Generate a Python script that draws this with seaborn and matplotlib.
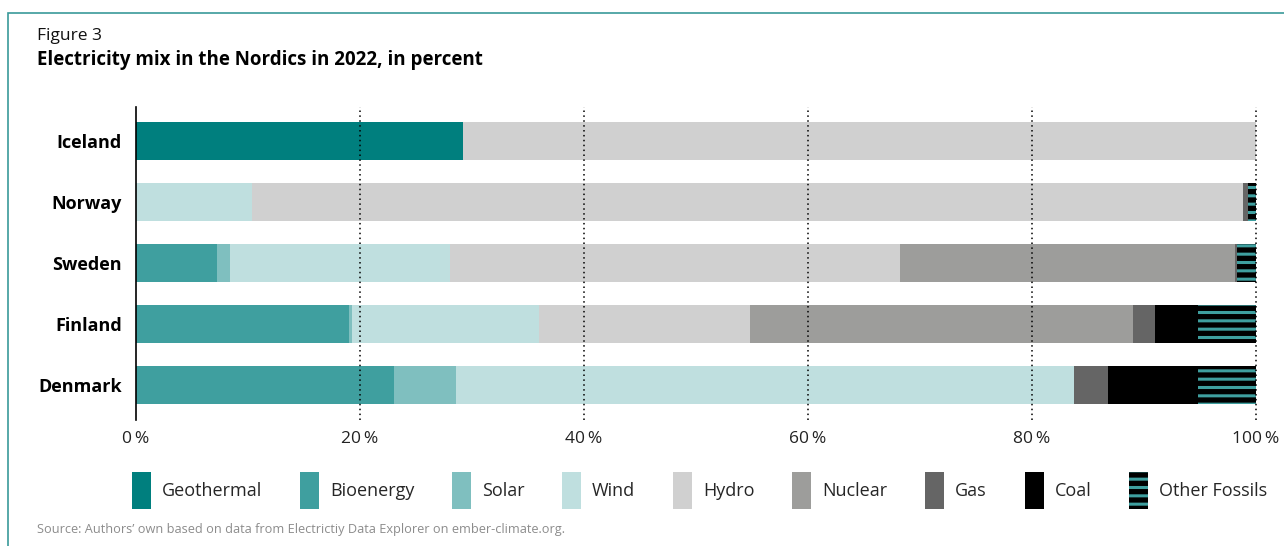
import pandas as pd
import seaborn as sns
import matplotlib.pyplot as plt
from matplotlib.patches import Patch, Rectangle

# Data (percent of electricity generation, 2022)
countries = ["Iceland", "Norway", "Sweden", "Finland", "Denmark"]
sources = ["Geothermal", "Bioenergy", "Solar", "Wind", "Hydro",
           "Nuclear", "Gas", "Coal", "Other Fossils"]
geothermal = [29.2, 0, 0, 0, 0]
bioenergy = [0, 0, 7.2, 19.0, 23.0]
solar = [0, 0, 1.2, 0.3, 5.6]
wind = [0, 10.4, 19.6, 16.7, 55.15]
hydro = [70.8, 88.4, 40.2, 18.8, 0]
nuclear = [0, 0, 29.9, 34.2, 0]
gas = [0, 0.45, 0.2, 2.0, 3.05]
coal = [0, 0, 0, 3.8, 8.0]
other_fossils = [0, 0.75, 1.7, 5.2, 5.2]
x_ticks = [0, 20, 40, 60, 80, 100]

colors = {
    "Geothermal": "#007f7e",
    "Bioenergy": "#3f9f9f",
    "Solar": "#7fbfbf",
    "Wind": "#bfdfdf",
    "Hydro": "#d0d0d0",
    "Nuclear": "#9d9d9b",
    "Gas": "#656565",
    "Coal": "#000000",
    "Other Fossils": "#000000",
}
stripe = "#3f9f9f"
teal_border = "#3a9a9a"

df = pd.DataFrame({
    "country": countries,
    "Geothermal": geothermal, "Bioenergy": bioenergy, "Solar": solar,
    "Wind": wind, "Hydro": hydro, "Nuclear": nuclear, "Gas": gas,
    "Coal": coal, "Other Fossils": other_fossils,
})
cum = df[sources].cumsum(axis=1)

sns.set_theme(style="white")
plt.rcParams["font.family"] = ["Open Sans", "DejaVu Sans"]
plt.rcParams["hatch.linewidth"] = 2.2
plt.rcParams["hatch.color"] = stripe

fig = plt.figure(figsize=(12.84, 5.46), dpi=100)
ax = fig.add_axes([136 / 1284, 1 - 420 / 546, 1120 / 1284, 313 / 546])

# stacked bars: draw cumulative totals from the last source backwards
for src in reversed(sources):
    n_before = len(ax.patches)
    sns.barplot(x=cum[src], y=df["country"], orient="h", color=colors[src],
                saturation=1, width=0.62, linewidth=0, ax=ax,
                hatch="--" if src == "Other Fossils" else None)
    if src == "Other Fossils":
        for p in ax.patches[n_before:]:
            p.set_edgecolor(stripe)
            p.set_linewidth(0)

ax.set_xlim(0, 100)
ax.set_ylim(4.57, -0.56)
ax.set_xticks(x_ticks)
ax.set_xticklabels([f"{t}\u2009%" for t in x_ticks], fontsize=12.5, color="#222222")
ax.tick_params(axis="x", length=0, pad=8)
ax.tick_params(axis="y", length=0, pad=10)
for lbl in ax.get_yticklabels():
    lbl.set_fontweight("bold")
    lbl.set_fontsize(13)
    lbl.set_color("black")
ax.set_xlabel("")
ax.set_ylabel("")
for t in x_ticks[1:]:
    ax.axvline(t, color="black", linestyle=(0, (1, 2.2)), linewidth=1.1, zorder=5, clip_on=False)
for side in ["top", "right", "bottom"]:
    ax.spines[side].set_visible(False)
ax.spines["left"].set_color("black")
ax.spines["left"].set_linewidth(1.2)

# legend
handles = []
for src in sources:
    if src == "Other Fossils":
        handles.append(Patch(facecolor="black", edgecolor=stripe, hatch="--", linewidth=0, label=src))
    else:
        handles.append(Patch(facecolor=colors[src], linewidth=0, label=src))
fig.legend(handles=handles, loc="upper left", bbox_to_anchor=(132 / 1284, 1 - 472 / 546),
           ncol=9, frameon=False, fontsize=13, handlelength=1.05, handleheight=2.8,
           handletextpad=0.6, columnspacing=2.1, borderpad=0, borderaxespad=0)

# titles, source and frame
fig.text(37 / 1284, 1 - 36 / 546, "Figure 3", fontsize=12.5, va="center", color="#111111")
fig.text(37 / 1284, 1 - 60 / 546, "Electricity mix in the Nordics in 2022, in percent",
         fontsize=13.5, fontweight="bold", va="center", color="black")
fig.text(37 / 1284, 1 - 530 / 546,
         "Source: Authors\u2019 own based on data from Electrictiy Data Explorer on ember-climate.org.",
         fontsize=9.2, va="center", color="#8c8c8c")
fig.add_artist(Rectangle((8 / 1284, -0.1), 1.2, 1.1 - 13 / 546, transform=fig.transFigure,
                         fill=False, edgecolor=teal_border, linewidth=1.2))

plt.savefig("out.png", dpi=100)
